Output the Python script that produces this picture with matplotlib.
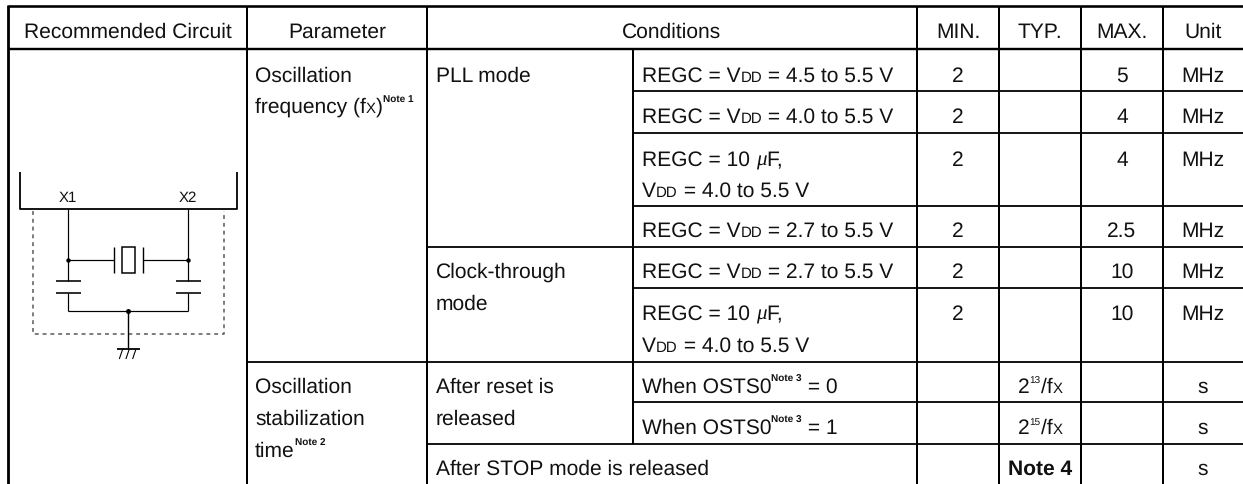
import matplotlib
matplotlib.use("Agg")
import matplotlib.pyplot as plt
from matplotlib.patches import Rectangle

plt.rcParams['font.family'] = ['Liberation Sans', 'DejaVu Sans']
plt.rcParams['text.hinting'] = 'no_hinting'
plt.rcParams['text.hinting_factor'] = 1

W, H = 1243, 485
FS = 15.0   # body text size in pt at dpi 100

headers = ["Recommended Circuit", "Parameter", "Conditions", "MIN.", "TYP.", "MAX.", "Unit"]

conditions = [
    [("REGC = V", "n"), ("DD", "s"), (" = 4.5 to 5.5 V", "n")],
    [("REGC = V", "n"), ("DD", "s"), (" = 4.0 to 5.5 V", "n")],
    [("REGC = 10 ", "n"), ("\u03bc", "m"), ("F,", "n")],
    [("V", "n"), ("DD", "s"), (" = 4.0 to 5.5 V", "n")],
    [("REGC = V", "n"), ("DD", "s"), (" = 2.7 to 5.5 V", "n")],
    [("REGC = V", "n"), ("DD", "s"), (" = 2.7 to 5.5 V", "n")],
    [("REGC = 10 ", "n"), ("\u03bc", "m"), ("F,", "n")],
    [("V", "n"), ("DD", "s"), (" = 4.0 to 5.5 V", "n")],
    [("When OSTS0", "n"), ("Note 3", "u"), (" = 0", "n")],
    [("When OSTS0", "n"), ("Note 3", "u"), (" = 1", "n")],
]
condition_y = [81.7, 123, 166, 196.7, 236.7, 278, 320, 351.7, 393, 434]

mode_labels = ["PLL mode", "Clock-through", "mode", "After reset is", "released", "After STOP mode is released"]
mode_y = [81.7, 278, 310, 393, 425, 475]

param_labels = [
    [("Oscillation", "n")],
    [("frequency (f", "n"), ("X", "s"), (")", "n"), ("Note 1", "u")],
    [("Oscillation", "n")],
    [("stabilization", "n")],
    [("time", "n"), ("Note 2", "u")],
]
param_y = [81.7, 113, 393, 425, 456.7]

min_values = ["2", "2", "2", "2", "2", "2"]
max_values = ["5", "4", "4", "2.5", "10", "10"]
value_y = [81.7, 123, 166, 236.7, 278, 320]
unit_labels = ["MHz"] * 6 + ["s", "s", "s"]
unit_y = value_y + [393, 434, 475]

typ_cells = [
    ([("2", "n"), ("13", "t"), ("/f", "n"), ("X", "s")], 393),
    ([("2", "n"), ("15", "t"), ("/f", "n"), ("X", "s")], 434),
    ([("Note 4", "b")], 475),
]

# grid, in pixels of the picture
col_x = [8.2, 247, 427, 633.5, 917, 999, 1081, 1163]
top_y, head_y = 7, 50
row_lines = [
    (91.7, 633.5), (133.7, 633.5), (206.7, 633.5), (247.7, 427), (289.3, 633.5),
    (363.3, 247), (403.3, 633.5), (445.3, 427),
]

fig = plt.figure(figsize=(W / 100, H / 100), dpi=100)
ax = fig.add_axes([0, 0, 1, 1])
ax.set_xlim(0, W)
ax.set_ylim(H, 0)
ax.axis("off")
renderer = fig.canvas.get_renderer()


def px(n):
    return n * 0.72


def line(xs, ys, w=1.6, **kw):
    ax.plot(xs, ys, color="black", lw=px(w), solid_capstyle="butt", **kw)


def run_style(kind):
    if kind == "s":
        return dict(fontsize=FS * 0.72), 0
    if kind == "u":
        return dict(fontsize=FS * 0.5, fontweight="bold"), 11
    if kind == "t":
        return dict(fontsize=FS * 0.46), 9.5
    if kind == "b":
        return dict(fontsize=FS, fontweight="bold"), 0
    if kind == "m":
        return dict(fontsize=FS, fontstyle="italic", family="Liberation Serif"), 0
    return dict(fontsize=FS), 0


def run_width(s, style):
    # bars keep the spaces at the ends in the measure
    a = ax.text(0, 0, "|" + s + "|", **style)
    b = ax.text(0, 0, "||", **style)
    w = a.get_window_extent(renderer).width - b.get_window_extent(renderer).width
    a.remove()
    b.remove()
    return w


def draw_runs(x, y, runs, center=False):
    widths = [run_width(s, run_style(k)[0]) for s, k in runs]
    if center:
        x = x - sum(widths) / 2
    for (s, k), w in zip(runs, widths):
        style, rise = run_style(k)
        ax.text(x, y - rise, s, va="baseline", ha="left", color="#111111", **style)
        x += w


# table grid
line([col_x[0], W], [top_y, top_y], w=2.6)
line([col_x[0], W], [head_y, head_y], w=2.4)
line([col_x[0], col_x[0]], [top_y - 1, H], w=2.8)
for x in col_x[1:3] + col_x[4:]:
    line([x, x], [top_y, H], w=2.0)
line([col_x[3], col_x[3]], [head_y, row_lines[-1][0]], w=2.0)
for y, x0 in row_lines:
    line([x0, W], [y, y], w=1.8)

# header row
centers = [127.5, 337, 672, 958, 1040, 1122, 1203]
for label, cx in zip(headers, centers):
    ax.text(cx, 38, label, ha="center", va="baseline", fontsize=FS, color="#111111")

for runs, y in zip(param_labels, param_y):
    draw_runs(255, y, runs)
for label, y in zip(mode_labels, mode_y):
    ax.text(436, y, label, ha="left", va="baseline", fontsize=FS, color="#111111")
for runs, y in zip(conditions, condition_y):
    draw_runs(642, y, runs)
for v, y in zip(min_values, value_y):
    ax.text(958, y, v, ha="center", va="baseline", fontsize=FS, color="#111111")
for v, y in zip(max_values, value_y):
    ax.text(1122, y, v, ha="center", va="baseline", fontsize=FS, color="#111111")
for v, y in zip(unit_labels, unit_y):
    ax.text(1203, y, v, ha="center", va="baseline", fontsize=FS, color="#111111")
for runs, y in typ_cells:
    draw_runs(1040, y, runs, center=True)

# circuit: chip outline and pins
line([20, 20, 237, 237], [173, 210, 210, 173], w=1.8)
ax.text(68, 202, "X1", ha="center", va="baseline", fontsize=FS * 0.7, color="#111111")
ax.text(188, 202, "X2", ha="center", va="baseline", fontsize=FS * 0.7, color="#111111")

# dashed board outline
ax.plot([33, 33, 224, 224], [212, 335, 335, 212], color="#555555", lw=px(1.5),
        dashes=(2.6, 2.6))

# left and right branches with load capacitors
for x in (68.3, 188.3):
    line([x, x], [210, 282], w=1.2)
    line([x, x], [294, 312], w=1.2)
    line([x - 12.5, x + 12.5], [282, 282], w=1.6)
    line([x - 12.5, x + 12.5], [294, 294], w=1.6)
    ax.plot([x], [261], "o", color="black", ms=3.2, mew=0)
line([68.3, 188.3], [312, 312], w=1.2)

# crystal
line([68.3, 114], [261, 261], w=1.2)
line([142.7, 188.3], [261, 261], w=1.2)
line([114, 114], [248, 274], w=1.4)
line([142.7, 142.7], [248, 274], w=1.4)
ax.add_patch(Rectangle((122.3, 248), 12.4, 26, fill=False, ec="black", lw=px(1.5)))

# ground
ax.plot([128.5], [312], "o", color="black", ms=3.6, mew=0)
line([128.5, 128.5], [312, 349], w=1.4)
line([117, 140], [349.5, 349.5], w=1.8)
for x in (122.7, 129.3, 136):
    line([x, x - 3.4], [350, 360], w=1.1)

fig.savefig("out.png", dpi=100)
